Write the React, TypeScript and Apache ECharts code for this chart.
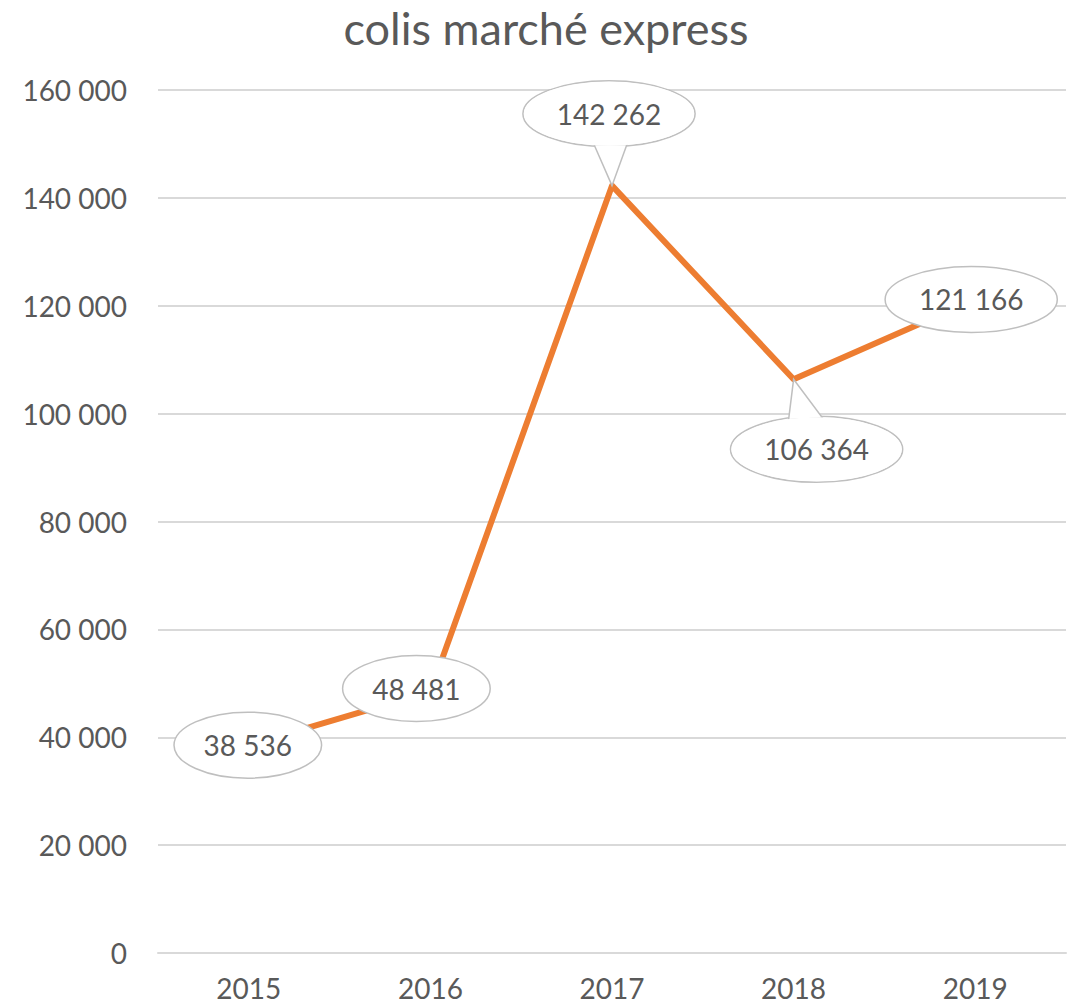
import React, { useEffect, useRef } from "react";
import * as echarts from "echarts";

const categories: string[] = ["2015", "2016", "2017", "2018", "2019"];
const values: number[] = [38536, 48481, 142262, 106364, 121166];
const yMin = 0;
const yMax = 160000;
const yInterval = 20000;

// label callout layout (offset of ellipse centre from point, in px)
const labelOffsets: number[][] = [[-1, 0], [-14, -3], [-3, -72], [23, 70], [-4, 0]];
// x offsets of wedge base relative to ellipse centre (null = no pointer)
const pointerBase: (number[] | null)[] = [null, null, [-15, 18], [-28, 6], null];

const FONT = "Lato, 'Open Sans', sans-serif";
const TEXT_COLOR = "#595959";

function fmt(v: number): string {
  return String(Math.round(v)).replace(/\B(?=(\d{3})+(?!\d))/g, " ");
}

export default function App() {
  const ref = useRef<HTMLDivElement>(null);
  useEffect(() => {
    if (!ref.current) return;
    const chart = echarts.init(ref.current, undefined, { renderer: "svg" });
    chart.setOption({
      animation: false,
      backgroundColor: "#ffffff",
      title: {
        text: "colis marché express",
        left: 546,
        top: 7,
        padding: 0,
        textAlign: "center",
        textStyle: { fontFamily: FONT, fontSize: 45, lineHeight: 42, fontWeight: "normal", color: TEXT_COLOR },
      },
      grid: { left: 158, right: 5, top: 90, bottom: 54 },
      xAxis: {
        type: "category",
        data: categories,
        boundaryGap: true,
        axisTick: { show: false },
        axisLine: { lineStyle: { color: "#d9d9d9", width: 2 } },
        axisLabel: { fontFamily: FONT, fontSize: 28, lineHeight: 22, color: TEXT_COLOR, margin: 24 },
      },
      yAxis: {
        type: "value",
        min: yMin,
        max: yMax,
        interval: yInterval,
        axisLine: { show: false },
        axisTick: { show: false },
        splitLine: { lineStyle: { color: "#d9d9d9", width: 2 } },
        axisLabel: { fontFamily: FONT, fontSize: 28, color: TEXT_COLOR, margin: 31, formatter: (v: number) => fmt(v) },
      },
      series: [
        {
          type: "line",
          data: values,
          symbol: "none",
          lineStyle: { color: "#ED7D31", width: 6, cap: "round", join: "round" },
          z: 2,
        },
        {
          type: "custom",
          data: values.map((v, i) => [i, v]),
          clip: false,
          z: 5,
          renderItem: (params: any, api: any) => {
            const i = params.dataIndex;
            const pt = api.coord([api.value(0), api.value(1)]);
            const [dx, dy] = labelOffsets[i];
            const cx = pt[0] + dx;
            const cy = pt[1] + dy;
            const text = fmt(api.value(1));
            const rx = 12.3 * text.length;
            const ry = 33;
            const children: any[] = [
              {
                type: "ellipse",
                shape: { cx, cy, rx, ry },
                style: { fill: "#ffffff", stroke: "#bfbfbf", lineWidth: 1.5 },
              },
            ];
            const pb = pointerBase[i];
            if (pb) {
              const sign = dy < 0 ? 1 : -1;
              const by = (bx: number) => sign * ry * Math.sqrt(Math.max(0, 1 - (bx / rx) * (bx / rx))) * 0.95;
              children.push({
                type: "polygon",
                shape: {
                  points: [
                    [cx + pb[0], cy + by(pb[0])],
                    [pt[0], pt[1]],
                    [cx + pb[1], cy + by(pb[1])],
                  ],
                },
                style: { fill: "#ffffff", stroke: "#bfbfbf", lineWidth: 1.5 },
              });
              children.push({
                type: "ellipse",
                shape: { cx, cy, rx: rx - 1, ry: ry - 1 },
                style: { fill: "#ffffff" },
              });
            }
            children.push({
              type: "text",
              style: {
                text,
                x: cx,
                y: cy,
                align: "center",
                verticalAlign: "middle",
                fontFamily: FONT,
                fontSize: 28,
                fill: TEXT_COLOR,
              },
            });
            return { type: "group", children };
          },
        },
      ],
    });
    return () => chart.dispose();
  }, []);
  return <div ref={ref} style={{ position: "fixed", left: 0, top: 0, width: 1071, height: 1007 }} />;
}
